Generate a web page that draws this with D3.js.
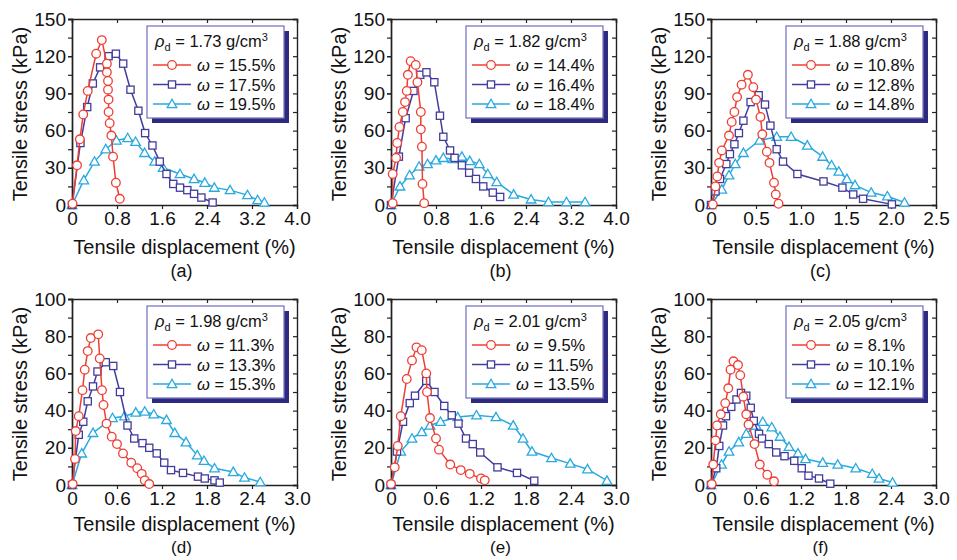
<!DOCTYPE html>
<html>
<head>
<meta charset="utf-8">
<script src="https://cdn.jsdelivr.net/npm/d3@7"></script>
<style>
html,body{margin:0;padding:0;background:#fff;}
svg text{font-family:"Liberation Sans",Arial,Helvetica,sans-serif;fill:#111;}
</style>
</head>
<body>
<svg id="chart" width="957" height="560"></svg>
<script>
// ---------------- DATA ----------------
const panelLabels = ["(a)", "(b)", "(c)", "(d)", "(e)", "(f)"];
const densities = ["1.73", "1.82", "1.88", "1.98", "2.01", "2.05"];
const moistures = [
  ["15.5%", "17.5%", "19.5%"],
  ["14.4%", "16.4%", "18.4%"],
  ["10.8%", "12.8%", "14.8%"],
  ["11.3%", "13.3%", "15.3%"],
  ["9.5%", "11.5%", "13.5%"],
  ["8.1%", "10.1%", "12.1%"]
];
const xMax = [4.0, 4.0, 2.5, 3.0, 3.0, 3.0];
const xTickStep = [0.8, 0.8, 0.5, 0.6, 0.6, 0.6];
const yMax = [150, 150, 150, 100, 100, 100];
const yTickStep = [30, 30, 30, 20, 20, 20];

// Panel (a)
const a_w155 = [[0.01,1],[0.09,32],[0.14,53],[0.2,73],[0.28,92],[0.43,122],[0.53,133],[0.62,114],[0.62,107],[0.64,100],[0.64,93],[0.65,85],[0.65,75],[0.67,66],[0.7,56],[0.73,39],[0.78,18],[0.85,5]];
const a_w175 = [[0,0],[0.15,50],[0.27,79],[0.37,98],[0.5,111],[0.65,120],[0.78,122],[0.91,114],[1.04,93],[1.18,76],[1.3,58],[1.43,48],[1.56,35],[1.68,25],[1.8,17],[1.92,14],[2.05,12],[2.17,9],[2.3,6],[2.5,2]];
const a_w195 = [[0,0],[0.21,20],[0.4,35],[0.6,45],[0.79,52],[0.99,54],[1.13,51],[1.29,42],[1.47,35],[1.62,30],[1.92,25],[2.17,21],[2.36,18],[2.53,14],[2.81,12],[3.12,8],[3.3,4],[3.42,2]];
// Panel (b)
const b_w144 = [[0.03,1.5],[0.03,25],[0.09,38],[0.11,50],[0.15,63],[0.21,75],[0.25,83],[0.28,92],[0.3,105],[0.35,116],[0.44,113],[0.47,99],[0.53,75],[0.53,61],[0.55,47],[0.56,17],[0.59,1.5]];
const b_w164 = [[0,0],[0.14,39],[0.26,70],[0.4,92],[0.52,105],[0.63,107],[0.77,99],[0.87,72],[0.93,55],[1.05,44],[1.13,38],[1.26,32],[1.39,26],[1.51,21],[1.64,15],[1.81,10],[1.94,6.5]];
const b_w184 = [[0,0],[0.16,15],[0.33,24],[0.5,31],[0.65,33],[0.8,36],[0.93,38],[1.1,37],[1.26,39],[1.4,35.5],[1.57,33],[1.72,25],[1.88,18.5],[2.18,8.5],[2.49,4.5],[2.8,2.4],[3.12,2.4],[3.45,2.4]];
// Panel (c)
const c_w108 = [[0.02,0.5],[0.05,15],[0.07,23],[0.09,34],[0.12,44],[0.2,56],[0.23,67],[0.26,75],[0.29,87],[0.34,97],[0.41,105],[0.47,95],[0.5,85],[0.55,71],[0.57,57],[0.62,43],[0.65,34],[0.7,18],[0.72,8.5],[0.75,1]];
const c_w128 = [[0,0],[0.05,11],[0.1,21],[0.17,33],[0.21,41],[0.26,49],[0.31,58],[0.36,68],[0.44,83],[0.53,88.5],[0.6,81],[0.66,64],[0.73,45],[0.8,35],[0.96,25],[1.25,19],[1.46,14],[1.58,8.5],[1.69,5],[2.01,0.5]];
const c_w148 = [[0,0],[0.12,12.5],[0.2,24],[0.27,33],[0.36,42],[0.54,52],[0.73,55],[0.89,55],[1.07,48],[1.24,39],[1.34,32],[1.42,27],[1.51,21],[1.6,16],[1.78,10],[1.96,7],[2.15,2]];
// Panel (d)
const d_w113 = [[0.01,0.5],[0.04,14],[0.05,29],[0.09,37],[0.14,51],[0.17,62],[0.21,72],[0.25,79],[0.35,81],[0.37,68],[0.4,51],[0.42,43],[0.46,33],[0.53,26],[0.6,22],[0.68,17],[0.79,12],[0.87,9],[0.93,6],[0.97,2.5],[1.03,0.5]];
const d_w133 = [[0,0],[0.09,27],[0.15,34],[0.21,45],[0.28,53],[0.34,61],[0.45,66],[0.55,64],[0.64,50],[0.74,32],[0.83,25],[0.94,22.5],[1.03,20],[1.13,17],[1.23,12],[1.32,8],[1.48,6.5],[1.68,4.5],[1.77,3.5],[1.9,2.5],[1.97,1.3]];
const d_w153 = [[0,0],[0.13,17],[0.28,28],[0.54,36],[0.7,37],[0.85,39],[0.97,39.5],[1.09,38],[1.26,35],[1.37,28],[1.52,23],[1.67,16],[1.76,13],[1.9,9],[2.15,7],[2.3,4],[2.51,1.6]];
// Panel (e)
const e_w95 = [[0,0.5],[0.05,9.5],[0.09,21],[0.13,37],[0.21,57],[0.28,67],[0.34,74],[0.41,72.5],[0.47,60],[0.48,50],[0.52,36],[0.6,25],[0.64,19],[0.79,11],[0.93,8],[1.05,6],[1.2,3.5],[1.25,2.5]];
const e_w115 = [[0,0],[0.08,18],[0.16,34],[0.25,44],[0.32,48],[0.47,56],[0.58,50],[0.71,42.5],[0.81,37.5],[0.9,33],[1.0,25],[1.09,22],[1.19,17.5],[1.42,9.5],[1.68,6.5],[1.91,2.3]];
const e_w135 = [[0,0],[0.13,18],[0.28,25],[0.41,28.5],[0.52,32],[0.66,34],[0.89,36.5],[1.14,37.5],[1.4,36.5],[1.63,32],[1.76,25],[1.88,18],[2.14,14.5],[2.39,11.5],[2.62,8.5],[2.88,2.3]];
// Panel (f)
const f_w81 = [[0.01,0.5],[0.03,11],[0.06,24],[0.08,32],[0.13,38],[0.19,44],[0.23,52],[0.26,62],[0.3,66.5],[0.36,64.5],[0.39,59],[0.43,47.5],[0.47,38],[0.5,32.5],[0.58,22],[0.65,11],[0.75,5.5],[0.84,2]];
const f_w101 = [[0,0],[0.07,9],[0.11,21],[0.16,32],[0.2,37],[0.27,42],[0.34,46],[0.4,49.5],[0.47,48],[0.53,41.5],[0.57,34.5],[0.64,27.5],[0.68,25],[0.77,22],[0.87,17.5],[0.98,15.5],[1.11,13],[1.21,9],[1.3,5],[1.44,3.5],[1.59,0.7]];
const f_w121 = [[0,0],[0.14,11],[0.24,18],[0.37,23],[0.47,27.5],[0.6,32],[0.69,34],[0.81,31],[0.92,26],[1.04,20.5],[1.16,17],[1.26,14],[1.49,12],[1.69,11],[1.93,9],[2.15,6],[2.24,3.5],[2.42,1.3]];

const panelSeries = [
  [a_w155, a_w175, a_w195],
  [b_w144, b_w164, b_w184],
  [c_w108, c_w128, c_w148],
  [d_w113, d_w133, d_w153],
  [e_w95, e_w115, e_w135],
  [f_w81, f_w101, f_w121]
];

// ---------------- STYLE / LAYOUT ----------------
const colors = ["#ef3e33", "#423c9c", "#29a9e0"];
const shapes = ["circle", "square", "triangle"];
const panelLeft = [72, 391, 711, 72, 391, 711];
const panelTop = [19, 19, 19, 299, 299, 299];
const W = 225, H = 186;
const tickLen = 4;

const svg = d3.select("#chart");

function drawMarker(g, shape, x, y, color) {
  if (shape === "circle") {
    g.append("circle").attr("cx", x).attr("cy", y).attr("r", 4.3)
      .attr("fill", "#fff").attr("stroke", color).attr("stroke-width", 1.3);
  } else if (shape === "square") {
    g.append("rect").attr("x", x - 3.6).attr("y", y - 3.6).attr("width", 7.2).attr("height", 7.2)
      .attr("fill", "#fff").attr("stroke", color).attr("stroke-width", 1.3);
  } else {
    const s = 4.8;
    g.append("path").attr("d", `M${x},${y - s} L${x + s},${y + s * 0.75} L${x - s},${y + s * 0.75} Z`)
      .attr("fill", "#fff").attr("stroke", color).attr("stroke-width", 1.3);
  }
}

function fmtX(v) {
  if (Math.abs(v) < 1e-9) return "0";
  return v.toFixed(1);
}

for (let p = 0; p < 6; p++) {
  const g = svg.append("g").attr("transform", `translate(${panelLeft[p]},${panelTop[p]})`);
  const x = d3.scaleLinear().domain([0, xMax[p]]).range([0, W]);
  const y = d3.scaleLinear().domain([0, yMax[p]]).range([H, 0]);

  const xt = d3.range(0, xMax[p] + 1e-9, xTickStep[p]).map(v => +v.toFixed(3));
  const yt = d3.range(0, yMax[p] + 1e-9, yTickStep[p]);
  const ytMinor = d3.range(0, yMax[p] + 1e-9, yTickStep[p] / 2);

  g.append("g").attr("transform", `translate(0,${H})`)
    .call(d3.axisBottom(x).tickValues(xt).tickSize(tickLen).tickPadding(3).tickFormat(v => fmtX(v)));
  g.append("g").call(d3.axisTop(x).tickValues(xt).tickSize(-tickLen).tickFormat(""));
  g.append("g").call(d3.axisLeft(y).tickValues(ytMinor).tickSize(tickLen).tickFormat(""));
  g.append("g").call(d3.axisLeft(y).tickValues(yt).tickSize(tickLen).tickPadding(2).tickFormat(d3.format("d")));
  g.append("g").attr("transform", `translate(${W},0)`)
    .call(d3.axisRight(y).tickValues(ytMinor).tickSize(-tickLen).tickFormat(""));

  g.selectAll(".domain").attr("stroke", "#222").attr("stroke-width", 1.4);
  g.selectAll(".tick line").attr("stroke", "#222").attr("stroke-width", 1.2);
  g.selectAll(".tick text").attr("font-size", 19).attr("fill", "#111")
    .attr("font-family", "'Liberation Sans', Arial, sans-serif");

  const bottomRow = p >= 3;
  g.append("text").attr("x", W / 2).attr("y", bottomRow ? H + 46 : H + 49).attr("text-anchor", "middle")
    .attr("font-size", 20).text("Tensile displacement (%)");
  g.append("text").attr("transform", `translate(-52,${H / 2 + 2}) rotate(-90)`)
    .attr("text-anchor", "middle").attr("dominant-baseline", "central")
    .attr("font-size", 20).text("Tensile stress (kPa)");
  g.append("text").attr("x", W / 2 - 3).attr("y", bottomRow ? H + 68 : H + 72).attr("text-anchor", "middle")
    .attr("font-size", bottomRow ? 17 : 18).text(panelLabels[p]);

  const line = d3.line().x(d => x(d[0])).y(d => y(d[1]));
  for (let s = 2; s >= 0; s--) {
    const data = panelSeries[p][s];
    g.append("path").datum(data).attr("d", line).attr("fill", "none")
      .attr("stroke", colors[s]).attr("stroke-width", 1.5);
    const mg = g.append("g");
    data.forEach(d => drawMarker(mg, shapes[s], x(d[0]), y(d[1]), colors[s]));
  }

  const lx = 75, ly = 7, lw = 137, lh = 92;
  const lg = g.append("g").attr("transform", `translate(${lx},${ly})`);
  lg.append("rect").attr("x", 5).attr("y", 5).attr("width", lw).attr("height", lh).attr("fill", "#2e2a80");
  lg.append("rect").attr("x", 0).attr("y", 0).attr("width", lw).attr("height", lh)
    .attr("fill", "#fff").attr("stroke", "#7b78c4").attr("stroke-width", 1.3);
  const t0 = lg.append("text").attr("x", 8).attr("y", 21).attr("font-size", 16.5);
  t0.append("tspan").attr("font-style", "italic").text("ρ");
  t0.append("tspan").attr("font-size", 11).attr("dy", 4).text("d");
  t0.append("tspan").attr("dy", -4).text(" = " + densities[p] + " g/cm");
  t0.append("tspan").attr("font-size", 11).attr("dy", -6).text("3");
  for (let s = 0; s < 3; s++) {
    const cy = 39 + s * 19.5;
    lg.append("line").attr("x1", 6).attr("x2", 44).attr("y1", cy).attr("y2", cy)
      .attr("stroke", colors[s]).attr("stroke-width", 1.5);
    drawMarker(lg, shapes[s], 25, cy, colors[s]);
    const tt = lg.append("text").attr("x", 50).attr("y", cy + 6).attr("font-size", 16.5);
    tt.append("tspan").attr("font-style", "italic").text("ω");
    tt.append("tspan").text(" = " + moistures[p][s]);
  }
}
</script>
</body>
</html>
